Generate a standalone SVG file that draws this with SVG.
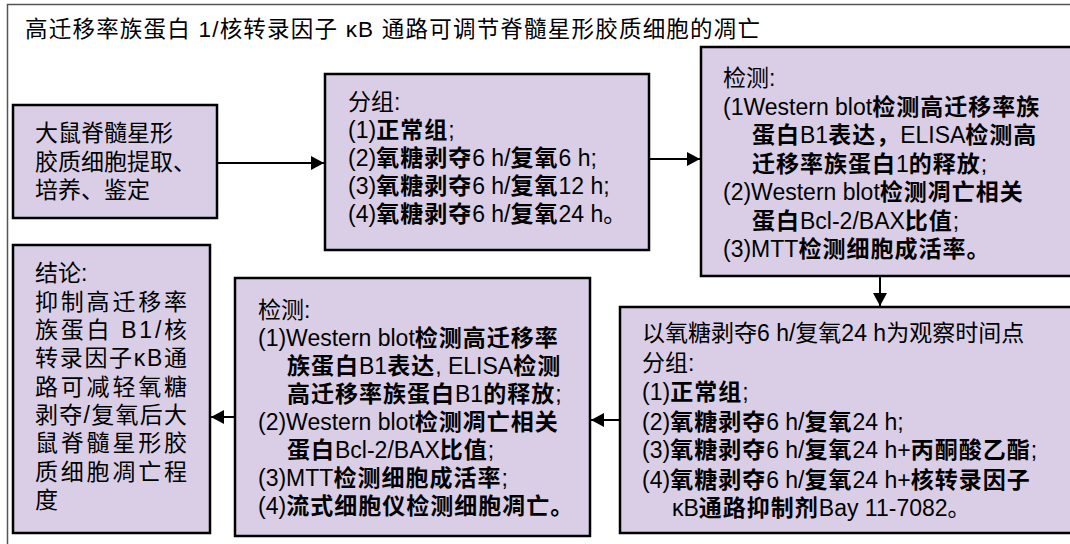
<svg xmlns="http://www.w3.org/2000/svg" width="1070" height="544" viewBox="0 0 1070 544">
<defs>
<style>
text{font-family:"Liberation Sans","Noto Sans CJK SC",sans-serif;font-size:23px;fill:#000}
.t{font-size:22.5px}
.k{font-weight:bold;letter-spacing:1px}
.box{fill:#D9CEE6;stroke:#000;stroke-width:2.5}
.frame{fill:none;stroke:#555;stroke-width:1.5}
.c{stroke:#000;stroke-width:2;fill:none}
</style>
<marker id="ah" markerUnits="userSpaceOnUse" markerWidth="14" markerHeight="14" refX="13" refY="7" orient="auto">
<path d="M0,0 L13,7 L0,14 z" fill="#000"/>
</marker>
</defs>
<rect x="0" y="0" width="1070" height="544" fill="#fff"/>
<path class="frame" d="M1070,4.5 H7.5 V544"/>
<text class="t" x="25" y="37" textLength="735" lengthAdjust="spacing">高迁移率族蛋白 1/核转录因子 κB 通路可调节脊髓星形胶质细胞的凋亡</text>

<g id="node-extract">
<rect class="box" x="13" y="105" width="204" height="113"/>
<text x="35" y="141">大鼠脊髓星形</text>
<text x="35" y="170">胶质细胞提取、</text>
<text x="35" y="198">培养、鉴定</text>
</g>

<g id="node-group1">
<rect class="box" x="325" y="74" width="324" height="176"/>
<text x="348" y="110">分组:</text>
<text x="348" y="138">(1)<tspan class="k">正常组</tspan>;</text>
<text x="348" y="166">(2)<tspan class="k">氧糖剥夺</tspan>6 h/<tspan class="k">复氧</tspan>6 h;</text>
<text x="348" y="194">(3)<tspan class="k">氧糖剥夺</tspan>6 h/<tspan class="k">复氧</tspan>12 h;</text>
<text x="348" y="222">(4)<tspan class="k">氧糖剥夺</tspan>6 h/<tspan class="k">复氧</tspan>24 h。</text>
</g>

<g id="node-detect1">
<rect class="box" x="701" y="47" width="375" height="229"/>
<text x="723" y="86">检测:</text>
<text x="723" y="114.5">(1Western blot<tspan class="k">检测高迁移率族</tspan></text>
<text x="752" y="143"><tspan class="k">蛋白</tspan>B1<tspan class="k">表达，</tspan>ELISA<tspan class="k">检测高</tspan></text>
<text x="752" y="171.5"><tspan class="k">迁移率族蛋白</tspan>1<tspan class="k">的释放</tspan>;</text>
<text x="723" y="200">(2)Western blot<tspan class="k">检测凋亡相关</tspan></text>
<text x="752" y="228.5"><tspan class="k">蛋白</tspan>Bcl-2/BAX<tspan class="k">比值</tspan>;</text>
<text x="723" y="257">(3)MTT<tspan class="k">检测细胞成活率。</tspan></text>
</g>

<g id="node-group2">
<rect class="box" x="620" y="307" width="456" height="226"/>
<text x="642" y="341">以氧糖剥夺6 h/复氧24 h为观察时间点</text>
<text x="642" y="371">分组:</text>
<text x="642" y="400">(1)<tspan class="k">正常组</tspan>;</text>
<text x="642" y="430">(2)<tspan class="k">氧糖剥夺</tspan>6 h/<tspan class="k">复氧</tspan>24 h;</text>
<text x="642" y="458">(3)<tspan class="k">氧糖剥夺</tspan>6 h/<tspan class="k">复氧</tspan>24 h+<tspan class="k">丙酮酸乙酯</tspan>;</text>
<text x="642" y="488">(4)<tspan class="k">氧糖剥夺</tspan>6 h/<tspan class="k">复氧</tspan>24 h+<tspan class="k">核转录因子</tspan></text>
<text x="672" y="516">κB<tspan class="k">通路抑制剂</tspan>Bay 11-7082。</text>
</g>

<g id="node-detect2">
<rect class="box" x="235" y="278" width="355" height="258"/>
<text x="258" y="318">检测:</text>
<text x="258" y="346">(1)Western blot<tspan class="k">检测高迁移率</tspan></text>
<text x="287" y="374"><tspan class="k">族蛋白</tspan>B1<tspan class="k">表达</tspan>, ELISA<tspan class="k">检测</tspan></text>
<text x="287" y="402"><tspan class="k">高迁移率族蛋白</tspan>B1<tspan class="k">的释放</tspan>;</text>
<text x="258" y="430">(2)Western blot<tspan class="k">检测凋亡相关</tspan></text>
<text x="287" y="458"><tspan class="k">蛋白</tspan>Bcl-2/BAX<tspan class="k">比值</tspan>;</text>
<text x="258" y="486">(3)MTT<tspan class="k">检测细胞成活率</tspan>;</text>
<text x="258" y="514">(4)<tspan class="k">流式细胞仪检测细胞凋亡。</tspan></text>
</g>

<g id="node-conclusion">
<rect class="box" x="13" y="245" width="197" height="288"/>
<text x="35" y="281">结论:</text>
<text x="35" y="310" textLength="152" lengthAdjust="spacing">抑制高迁移率</text>
<text x="35" y="338" textLength="152" lengthAdjust="spacing">族蛋白 B1/核</text>
<text x="35" y="366" textLength="152" lengthAdjust="spacing">转录因子κB通</text>
<text x="35" y="395" textLength="152" lengthAdjust="spacing">路可减轻氧糖</text>
<text x="35" y="423" textLength="152" lengthAdjust="spacing">剥夺/复氧后大</text>
<text x="35" y="451" textLength="152" lengthAdjust="spacing">鼠脊髓星形胶</text>
<text x="35" y="480" textLength="152" lengthAdjust="spacing">质细胞凋亡程</text>
<text x="35" y="508">度</text>
</g>

<g id="connectors">
<line class="c" x1="217" y1="163" x2="324" y2="163" marker-end="url(#ah)"/>
<line class="c" x1="649" y1="159" x2="700" y2="159" marker-end="url(#ah)"/>
<line class="c" x1="880" y1="276" x2="880" y2="306" marker-end="url(#ah)"/>
<line class="c" x1="620" y1="420" x2="591" y2="420" marker-end="url(#ah)"/>
<line class="c" x1="235" y1="417" x2="211" y2="417" marker-end="url(#ah)"/>
</g>
</svg>
